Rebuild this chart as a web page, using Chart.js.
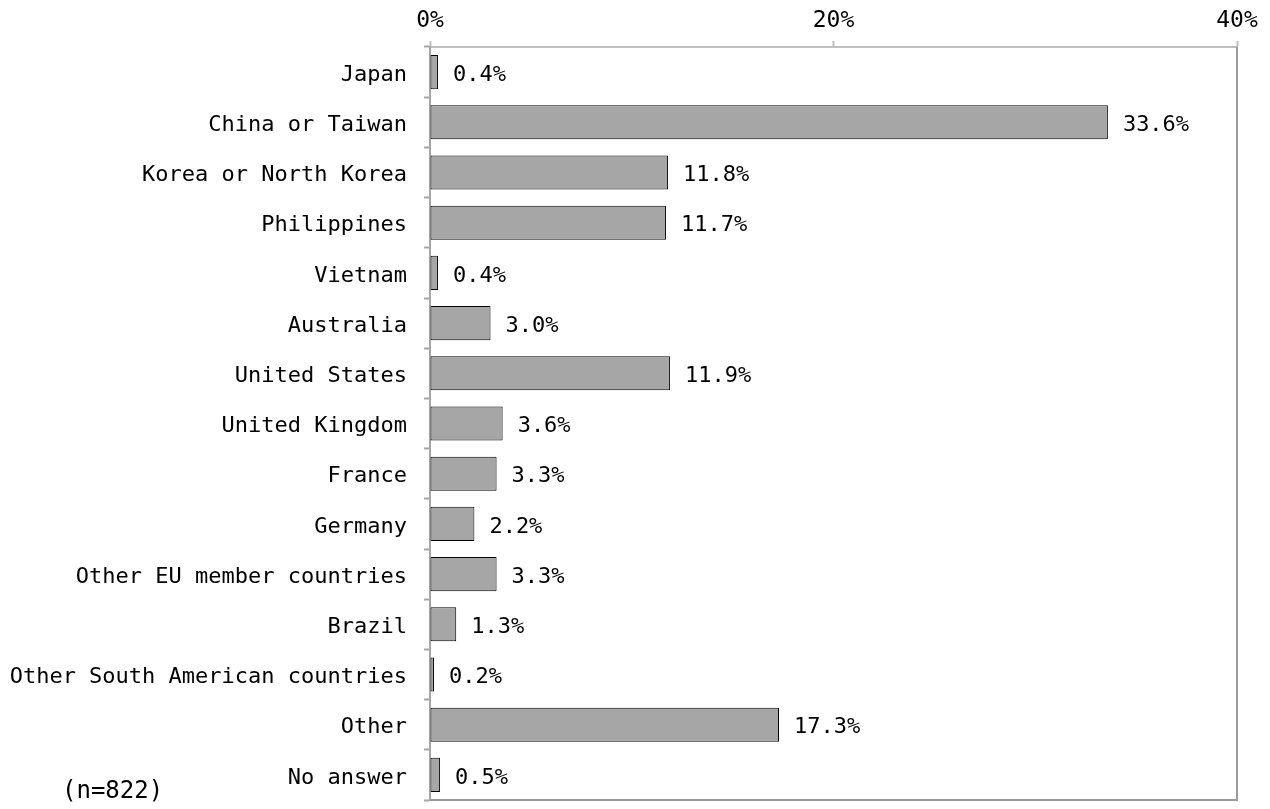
<!DOCTYPE html>
<html>
<head>
<meta charset="utf-8">
<script src="https://cdn.jsdelivr.net/npm/chart.js@4.4.0/dist/chart.umd.min.js"></script>
<style>
  html, body { margin: 0; padding: 0; background: #fff; }
  #wrap { width: 1270px; height: 809px; }
</style>
</head>
<body>
<div id="wrap"><canvas id="myChart" width="1270" height="809"></canvas></div>
<script>
const countries = [
  "Japan", "China or Taiwan", "Korea or North Korea", "Philippines", "Vietnam",
  "Australia", "United States", "United Kingdom", "France", "Germany",
  "Other EU member countries", "Brazil", "Other South American countries",
  "Other", "No answer"
];
const shares = [0.4, 33.6, 11.8, 11.7, 0.4, 3.0, 11.9, 3.6, 3.3, 2.2, 3.3, 1.3, 0.2, 17.3, 0.5];
const xTicks = [0, 20, 40];
const sampleNote = "(n=822)";

const monoFont = "'DejaVu Sans Mono', 'Liberation Mono', monospace";

// value labels at the bar ends, plus the frame and the sample size note
const labelsPlugin = {
  id: "valueLabels",
  afterDatasetsDraw(chart) {
    let ctx = chart.ctx;
    let meta = chart.getDatasetMeta(0);
    ctx.save();
    ctx.font = "22px " + monoFont;
    ctx.fillStyle = "#000";
    ctx.textAlign = "left";
    ctx.textBaseline = "middle";
    meta.data.forEach((bar, i) => {
      ctx.fillText(shares[i].toFixed(1) + "%", bar.x + 15, bar.y + 3);
    });
    ctx.restore();
  },
  afterDraw(chart) {
    let ctx = chart.ctx;
    let a = chart.chartArea;
    ctx.save();
    ctx.strokeStyle = "#9a9a9a";
    ctx.lineWidth = 2;
    ctx.beginPath();
    ctx.moveTo(a.right, a.top);
    ctx.lineTo(a.right, a.bottom);
    ctx.lineTo(a.left, a.bottom);
    ctx.stroke();
    ctx.font = "24px " + monoFont;
    ctx.fillStyle = "#000";
    ctx.textBaseline = "middle";
    ctx.fillText(sampleNote, 62, 792);
    ctx.restore();
  }
};

let ctx = document.getElementById("myChart").getContext("2d");
let chart = new Chart(ctx, {
  type: "bar",
  data: {
    labels: countries,
    datasets: [
      {
        data: shares,
        backgroundColor: "#a6a6a6",
        borderColor: "#000",
        borderWidth: 1,
        borderSkipped: false,
        categoryPercentage: 0.68,
        barPercentage: 1.0,
      },
    ],
  },
  options: {
    indexAxis: "y",
    responsive: false,
    animation: false,
    devicePixelRatio: 1,
    layout: { padding: { left: 0, right: 33, top: 0, bottom: 9 } },
    plugins: {
      legend: { display: false },
      tooltip: { enabled: false },
    },
    scales: {
      x: {
        position: "top",
        min: 0,
        max: 40,
        afterBuildTicks: (scale) => {
          scale.ticks = xTicks.map((v) => ({ value: v }));
        },
        afterFit: (scale) => {
          scale.height = 47;
        },
        ticks: {
          font: { family: monoFont, size: 23 },
          color: "#000",
          padding: 6,
          maxRotation: 0,
          callback: (v) => v + "%",
        },
        grid: {
          drawOnChartArea: false,
          drawTicks: true,
          tickLength: 6,
          tickColor: "#bfbfbf",
          tickWidth: 2,
        },
        border: { display: true, color: "#bfbfbf", width: 2 },
      },
      y: {
        afterFit: (scale) => {
          scale.width = 430;
          scale.paddingTop = 0;
          scale.paddingBottom = 0;
        },
        ticks: {
          font: { family: monoFont, size: 22 },
          color: "#000",
          padding: 17,
          labelOffset: 3,
          autoSkip: false,
        },
        grid: {
          offset: true,
          drawOnChartArea: false,
          drawTicks: true,
          tickLength: 6,
          tickColor: "#a6a6a6",
          tickWidth: 2,
        },
        border: { display: true, color: "#a6a6a6", width: 2 },
      },
    },
  },
  plugins: [labelsPlugin],
});
</script>
</body>
</html>
